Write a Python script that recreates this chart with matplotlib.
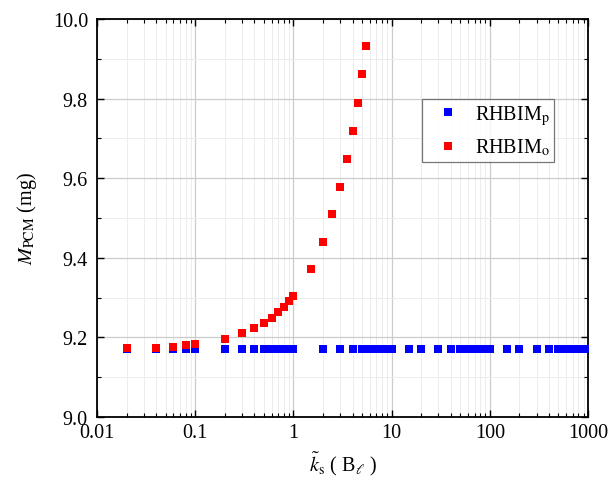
import matplotlib
matplotlib.use("Agg")
import matplotlib.pyplot as plt
from matplotlib.ticker import LogLocator, MultipleLocator, FixedLocator, FixedFormatter

plt.rcParams['font.family'] = ['Liberation Serif', 'DejaVu Serif']
plt.rcParams['mathtext.fontset'] = 'stix'

# Data
x_p = [0.02, 0.04, 0.06, 0.08, 0.1,
       0.2, 0.3, 0.4, 0.5, 0.6, 0.7, 0.8, 0.9, 1.0,
       2, 3, 4, 5, 6, 7, 8, 9, 10,
       15, 20, 30, 40, 50, 60, 70, 80, 90, 100,
       150, 200, 300, 400, 500, 600, 700, 800, 900, 1000]
y_p = [9.17] * len(x_p)

x_o = [0.02, 0.04, 0.06, 0.08, 0.1,
       0.2, 0.3, 0.4, 0.5, 0.6, 0.7, 0.8, 0.9, 1.0,
       1.5, 2.0, 2.5, 3.0, 3.5, 4.0, 4.5, 5.0, 5.5]
y_o = [9.173, 9.174, 9.177, 9.181, 9.183,
       9.197, 9.210, 9.223, 9.236, 9.250, 9.263, 9.277, 9.291, 9.305,
       9.372, 9.440, 9.509, 9.579, 9.648, 9.719, 9.790, 9.862, 9.933]

xticks = [0.01, 0.1, 1, 10, 100, 1000]
xticklabels = ['0.01', '0.1', '1', '10', '100', '1000']
yticks = [9.0, 9.2, 9.4, 9.6, 9.8, 10.0]
yticklabels = ['9.0', '9.2', '9.4', '9.6', '9.8', '10.0']

fig = plt.figure(figsize=(6.10, 4.81), dpi=100)
ax = fig.add_axes([97/610, 1 - 418/481, (588 - 97)/610, (418 - 20)/481])

ax.plot(x_p, y_p, linestyle='none', marker='s', markersize=5.5, color='#0000ff',
        markeredgewidth=0, label=r'RHBIM$_\mathrm{p}$', zorder=3)
ax.plot(x_o, y_o, linestyle='none', marker='s', markersize=5.5, color='#ff0000',
        markeredgewidth=0, label=r'RHBIM$_\mathrm{o}$', zorder=4)

ax.set_xscale('log')
ax.set_xlim(0.01, 1000)
ax.set_ylim(9.0, 10.0)
ax.xaxis.set_major_locator(FixedLocator(xticks))
ax.xaxis.set_major_formatter(FixedFormatter(xticklabels))
ax.xaxis.set_minor_locator(LogLocator(base=10, subs=range(2, 10), numticks=20))
ax.xaxis.set_minor_formatter(FixedFormatter([]))
ax.yaxis.set_major_locator(FixedLocator(yticks))
ax.yaxis.set_major_formatter(FixedFormatter(yticklabels))
ax.yaxis.set_minor_locator(MultipleLocator(0.1))

ax.grid(True, which='major', color='#cccccc', linewidth=0.9)
ax.grid(True, which='minor', color='#ececec', linewidth=0.7)
ax.set_axisbelow(True)

ax.tick_params(which='both', direction='in', top=True, right=True, labelsize=14.5, colors='black')
ax.tick_params(which='major', length=5, width=1)
ax.tick_params(which='minor', length=3, width=0.8)
ax.tick_params(axis='x', pad=4.5)
ax.tick_params(axis='y', pad=6.5)
for s in ax.spines.values():
    s.set_linewidth(1.3)
    s.set_color('black')

ax.set_xlabel(r'$\tilde{k}_\mathrm{s}$ ( B$_{\ell}$ )', fontsize=14.5, labelpad=5)
ax.set_ylabel(r'$M_\mathrm{PCM}$ (mg)', fontsize=14.5, labelpad=10)

leg = ax.legend(loc='upper left', bbox_to_anchor=((422 - 97)/491, (418 - 100)/398),
                borderaxespad=0, fontsize=14.5, frameon=True, fancybox=False,
                edgecolor='#555555', handlelength=2.2, handletextpad=0.25,
                borderpad=0.2, labelspacing=0.5, markerscale=1.0)
leg.get_frame().set_linewidth(0.9)

fig.savefig('out.png', dpi=100)
